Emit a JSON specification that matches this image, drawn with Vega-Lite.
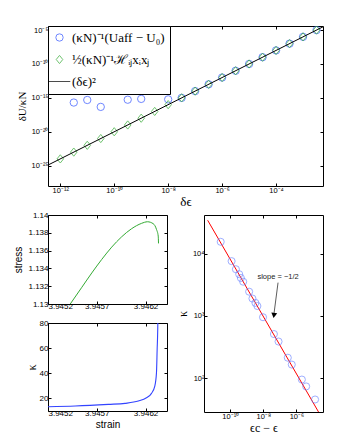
{
  "$schema": "https://vega.github.io/schema/vega-lite/v6.json",
  "background": "white",
  "padding": {"left": 13, "top": 25, "right": 5, "bottom": 5},
  "bounds": "flush",
  "spacing": 29,
  "config": {
    "view": {"stroke": "black", "strokeWidth": 1},
    "axis": {"domain": false, "grid": false, "tickSize": -3, "tickColor": "black", "labelFont": "Liberation Sans", "labelFontSize": 7.5, "labelColor": "black", "titleFont": "Liberation Sans", "titleFontWeight": "normal", "titleColor": "black", "labelPadding": 3},
    "legend": {"labelFont": "Liberation Serif", "labelFontSize": 13, "labelColor": "black"}
  },
  "datasets": {
    "top": [
      {"series": "(κN)⁻¹(Uaff − U₀)", "x": 3.162e-12, "y": 2.04e-16},
      {"series": "(κN)⁻¹(Uaff − U₀)", "x": 1e-11, "y": 4.9e-16},
      {"series": "(κN)⁻¹(Uaff − U₀)", "x": 3.162e-11, "y": 4.68e-17},
      {"series": "(κN)⁻¹(Uaff − U₀)", "x": 3.162e-10, "y": 5.37e-16},
      {"series": "(κN)⁻¹(Uaff − U₀)", "x": 1e-9, "y": 7.08e-16},
      {"series": "(κN)⁻¹(Uaff − U₀)", "x": 1e-8, "y": 6.03e-16},
      {"series": "(κN)⁻¹(Uaff − U₀)", "x": 3.162e-8, "y": 1e-15},
      {"series": "(κN)⁻¹(Uaff − U₀)", "x": 1e-7, "y": 1e-14},
      {"series": "(κN)⁻¹(Uaff − U₀)", "x": 3.162e-7, "y": 1e-13},
      {"series": "(κN)⁻¹(Uaff − U₀)", "x": 1e-6, "y": 1e-12},
      {"series": "(κN)⁻¹(Uaff − U₀)", "x": 3.162e-6, "y": 1e-11},
      {"series": "(κN)⁻¹(Uaff − U₀)", "x": 1e-5, "y": 1e-10},
      {"series": "(κN)⁻¹(Uaff − U₀)", "x": 3.162e-5, "y": 1e-9},
      {"series": "(κN)⁻¹(Uaff − U₀)", "x": 1e-4, "y": 1e-8},
      {"series": "(κN)⁻¹(Uaff − U₀)", "x": 3.162e-4, "y": 1e-7},
      {"series": "(κN)⁻¹(Uaff − U₀)", "x": 1e-3, "y": 1e-6},
      {"series": "(κN)⁻¹(Uaff − U₀)", "x": 3.162e-3, "y": 1e-5},
      {"series": "½(κN)⁻¹ℋᵢⱼxᵢxⱼ", "x": 1e-12, "y": 1e-24},
      {"series": "½(κN)⁻¹ℋᵢⱼxᵢxⱼ", "x": 3.162e-12, "y": 1e-23},
      {"series": "½(κN)⁻¹ℋᵢⱼxᵢxⱼ", "x": 1e-11, "y": 1e-22},
      {"series": "½(κN)⁻¹ℋᵢⱼxᵢxⱼ", "x": 3.162e-11, "y": 1e-21},
      {"series": "½(κN)⁻¹ℋᵢⱼxᵢxⱼ", "x": 1e-10, "y": 1e-20},
      {"series": "½(κN)⁻¹ℋᵢⱼxᵢxⱼ", "x": 3.162e-10, "y": 1e-19},
      {"series": "½(κN)⁻¹ℋᵢⱼxᵢxⱼ", "x": 1e-9, "y": 1e-18},
      {"series": "½(κN)⁻¹ℋᵢⱼxᵢxⱼ", "x": 3.162e-9, "y": 1e-17},
      {"series": "½(κN)⁻¹ℋᵢⱼxᵢxⱼ", "x": 1e-8, "y": 1e-16},
      {"series": "½(κN)⁻¹ℋᵢⱼxᵢxⱼ", "x": 3.162e-8, "y": 1e-15},
      {"series": "½(κN)⁻¹ℋᵢⱼxᵢxⱼ", "x": 1e-7, "y": 1e-14},
      {"series": "½(κN)⁻¹ℋᵢⱼxᵢxⱼ", "x": 3.162e-7, "y": 1e-13},
      {"series": "½(κN)⁻¹ℋᵢⱼxᵢxⱼ", "x": 1e-6, "y": 1e-12},
      {"series": "½(κN)⁻¹ℋᵢⱼxᵢxⱼ", "x": 3.162e-6, "y": 1e-11},
      {"series": "½(κN)⁻¹ℋᵢⱼxᵢxⱼ", "x": 1e-5, "y": 1e-10},
      {"series": "½(κN)⁻¹ℋᵢⱼxᵢxⱼ", "x": 3.162e-5, "y": 1e-9},
      {"series": "½(κN)⁻¹ℋᵢⱼxᵢxⱼ", "x": 1e-4, "y": 1e-8},
      {"series": "½(κN)⁻¹ℋᵢⱼxᵢxⱼ", "x": 3.162e-4, "y": 1e-7},
      {"series": "½(κN)⁻¹ℋᵢⱼxᵢxⱼ", "x": 1e-3, "y": 1e-6},
      {"series": "½(κN)⁻¹ℋᵢⱼxᵢxⱼ", "x": 3.162e-3, "y": 1e-5}
    ],
    "topline": [
      {"series": "(δϵ)²", "x": 3.5e-13, "y": 1.225e-25},
      {"series": "(δϵ)²", "x": 5.5e-3, "y": 3.025e-5}
    ],
    "stress": [
      {"strain": 3.945428, "stress": 1.1300},
      {"strain": 3.945547, "stress": 1.13188},
      {"strain": 3.945649, "stress": 1.13349},
      {"strain": 3.945751, "stress": 1.13501},
      {"strain": 3.945853, "stress": 1.13639},
      {"strain": 3.945955, "stress": 1.13755},
      {"strain": 3.946057, "stress": 1.13846},
      {"strain": 3.946159, "stress": 1.13906},
      {"strain": 3.946220, "stress": 1.13924},
      {"strain": 3.946279, "stress": 1.13902},
      {"strain": 3.946312, "stress": 1.13839},
      {"strain": 3.946330, "stress": 1.13763},
      {"strain": 3.946333, "stress": 1.13681}
    ],
    "kappa": [
      {"strain": 3.9452, "kappa": 13.4},
      {"strain": 3.945479, "kappa": 14.0},
      {"strain": 3.945819, "kappa": 15.3},
      {"strain": 3.945989, "kappa": 16.1},
      {"strain": 3.946126, "kappa": 17.9},
      {"strain": 3.94621, "kappa": 20.5},
      {"strain": 3.946261, "kappa": 24.0},
      {"strain": 3.946295, "kappa": 29.8},
      {"strain": 3.946312, "kappa": 40.3},
      {"strain": 3.946319, "kappa": 58.9},
      {"strain": 3.946326, "kappa": 80},
      {"strain": 3.946327, "kappa": 90}
    ],
    "loglog": [
      {"d": 2.63e-11, "k": 15488},
      {"d": 1.2e-10, "k": 7586},
      {"d": 2.19e-10, "k": 5623},
      {"d": 3.47e-10, "k": 4677},
      {"d": 4.37e-10, "k": 4074},
      {"d": 6.03e-10, "k": 3548},
      {"d": 1.38e-9, "k": 2455},
      {"d": 2.19e-9, "k": 1905},
      {"d": 3.31e-9, "k": 1622},
      {"d": 4.37e-9, "k": 1445},
      {"d": 9.55e-9, "k": 955},
      {"d": 4.37e-8, "k": 513},
      {"d": 8.32e-8, "k": 389},
      {"d": 3.02e-7, "k": 214},
      {"d": 5.25e-7, "k": 166},
      {"d": 2.14e-6, "k": 95.5},
      {"d": 3.89e-6, "k": 74.1},
      {"d": 1.35e-5, "k": 45.7}
    ],
    "fit": [
      {"d": 4.27e-12, "k": 34356},
      {"d": 2.19e-5, "k": 28.8}
    ],
    "note": [
      {"d": 7.8e-8, "k": 4227, "label": "slope = −1/2"}
    ],
    "arrow": [
      {"d": 7.76e-8, "k": 3428, "d2": 4.47e-8, "k2": 1117}
    ],
    "head": [
      {"d": 4.37e-8, "k": 1018}
    ]
  },
  "vconcat": [
    {
      "width": 275,
      "height": 160,
      "resolve": {"axis": {"x": "independent", "y": "independent"}},
      "layer": [
        {
          "data": {"name": "top"},
          "mark": {"type": "point", "filled": false, "strokeWidth": 1, "clip": true},
          "encoding": {
            "x": {"field": "x", "type": "quantitative", "scale": {"type": "log", "domain": [3.5e-13, 5.5e-3], "nice": false},
              "axis": {"orient": "bottom", "values": [1e-12, 1e-10, 1e-8, 1e-6, 1e-4], "title": "δϵ", "titleFont": "Liberation Serif", "titleFontSize": 13, "titlePadding": 2,
                "labelExpr": "'10' + replace(replace(replace(replace(replace(replace(replace(replace(replace(replace(replace(toString(round(log(datum.value)/LN10)),'-','⁻'),'0','⁰'),'1','¹'),'2','²'),'3','³'),'4','⁴'),'5','⁵'),'6','⁶'),'7','⁷'),'8','⁸'),'9','⁹')"}},
            "y": {"field": "y", "type": "quantitative", "scale": {"type": "log", "domain": [1e-28, 4e-5], "nice": false},
              "axis": {"orient": "left", "values": [1e-25, 1e-20, 1e-15, 1e-10, 1e-5], "title": "δU/κN", "titleFont": "Liberation Serif", "titleFontSize": 11, "titlePadding": 4,
                "labelExpr": "'10' + replace(replace(replace(replace(replace(replace(replace(replace(replace(replace(replace(toString(round(log(datum.value)/LN10)),'-','⁻'),'0','⁰'),'1','¹'),'2','²'),'3','³'),'4','⁴'),'5','⁵'),'6','⁶'),'7','⁷'),'8','⁸'),'9','⁹')"}},
            "color": {"field": "series", "type": "nominal",
              "scale": {"domain": ["(κN)⁻¹(Uaff − U₀)", "½(κN)⁻¹ℋᵢⱼxᵢxⱼ", "(δϵ)²"], "range": ["#3355ff", "#33aa33", "#000000"]},
              "legend": {"title": null, "orient": "top-left", "offset": 0, "strokeColor": "black", "fillColor": "white", "padding": 5, "rowPadding": 8, "labelOffset": 6, "symbolStrokeWidth": 1}},
            "shape": {"field": "series", "type": "nominal",
              "scale": {"domain": ["(κN)⁻¹(Uaff − U₀)", "½(κN)⁻¹ℋᵢⱼxᵢxⱼ", "(δϵ)²"], "range": ["circle", "M0,-1L0.8,0L0,1L-0.8,0Z", "M-2.4,0L2.4,0"]}},
            "size": {"field": "series", "type": "nominal",
              "scale": {"domain": ["(κN)⁻¹(Uaff − U₀)", "½(κN)⁻¹ℋᵢⱼxᵢxⱼ", "(δϵ)²"], "range": [54, 81, 81]}}
          }
        },
        {
          "data": {"name": "topline"},
          "mark": {"type": "line", "strokeWidth": 1, "clip": true},
          "encoding": {
            "x": {"field": "x", "type": "quantitative", "axis": {"orient": "top", "labels": false, "title": null, "values": [1e-12, 1e-10, 1e-8, 1e-6, 1e-4]}},
            "y": {"field": "y", "type": "quantitative", "axis": {"orient": "right", "labels": false, "title": null, "values": [1e-25, 1e-20, 1e-15, 1e-10, 1e-5]}},
            "color": {"field": "series", "type": "nominal"}
          }
        }
      ]
    },
    {
      "hconcat": [
        {
          "vconcat": [
            {
              "width": 119,
              "height": 89,
              "data": {"name": "stress"},
              "resolve": {"axis": {"x": "independent", "y": "independent"}},
              "layer": [
                {
                  "mark": {"type": "line", "color": "#33aa33", "strokeWidth": 1, "interpolate": "monotone", "clip": true},
                  "encoding": {
                    "x": {"field": "strain", "type": "quantitative", "scale": {"domain": [3.9452, 3.94642], "nice": false, "zero": false},
                      "axis": {"orient": "bottom", "values": [3.9452, 3.9457, 3.9462], "format": ".4f", "title": null, "labelFontSize": 8, "labelPadding": 1}},
                    "y": {"field": "stress", "type": "quantitative", "scale": {"domain": [1.13, 1.14], "nice": false, "zero": false},
                      "axis": {"orient": "left", "values": [1.13, 1.132, 1.134, 1.136, 1.138, 1.14], "format": ".3~f", "title": "stress", "titleFontSize": 10, "labelFontSize": 8, "titlePadding": 4}}
                  }
                },
                {
                  "mark": {"type": "line", "opacity": 0, "clip": true},
                  "encoding": {
                    "x": {"field": "strain", "type": "quantitative", "axis": {"orient": "top", "labels": false, "title": null, "values": [3.9452, 3.9457, 3.9462]}},
                    "y": {"field": "stress", "type": "quantitative", "axis": {"orient": "right", "labels": false, "title": null, "values": [1.13, 1.132, 1.134, 1.136, 1.138, 1.14]}}
                  }
                }
              ]
            },
            {
              "width": 119,
              "height": 88,
              "data": {"name": "kappa"},
              "resolve": {"axis": {"x": "independent", "y": "independent"}},
              "layer": [
                {
                  "mark": {"type": "line", "color": "#3344ff", "strokeWidth": 1.1, "interpolate": "monotone", "clip": true},
                  "encoding": {
                    "x": {"field": "strain", "type": "quantitative", "scale": {"domain": [3.9452, 3.94642], "nice": false, "zero": false},
                      "axis": {"orient": "bottom", "values": [3.9452, 3.9457, 3.9462], "format": ".4f", "title": "strain", "titleFontSize": 10, "labelFontSize": 8, "labelPadding": 1, "titlePadding": 2}},
                    "y": {"field": "kappa", "type": "quantitative", "scale": {"domain": [10, 80], "nice": false, "zero": false},
                      "axis": {"orient": "left", "values": [20, 40, 60, 80], "title": "κ", "titleFont": "Liberation Serif", "titleFontSize": 12, "labelFontSize": 8, "titlePadding": 1}}
                  }
                },
                {
                  "mark": {"type": "line", "opacity": 0, "clip": true},
                  "encoding": {
                    "x": {"field": "strain", "type": "quantitative", "axis": {"orient": "top", "labels": false, "title": null, "values": [3.9452, 3.9457, 3.9462]}},
                    "y": {"field": "kappa", "type": "quantitative", "axis": {"orient": "right", "labels": false, "title": null, "values": [20, 40, 60, 80]}}
                  }
                }
              ]
            }
          ],
          "spacing": 19,
          "bounds": "flush"
        },
        {
          "width": 119,
          "height": 197,
          "resolve": {"axis": {"x": "independent", "y": "independent"}},
          "layer": [
            {
              "data": {"name": "fit"},
              "mark": {"type": "line", "color": "#ff0000", "strokeWidth": 1, "clip": true},
              "encoding": {
                "x": {"field": "d", "type": "quantitative", "scale": {"type": "log", "domain": [2.57e-12, 4.07e-5], "nice": false},
                  "axis": {"orient": "bottom", "values": [1e-10, 1e-8, 1e-6], "title": "ϵc − ϵ", "titleFont": "Liberation Serif", "titleFontSize": 12, "titlePadding": 3,
                    "labelExpr": "'10' + replace(replace(replace(replace(replace(replace(replace(replace(replace(replace(replace(toString(round(log(datum.value)/LN10)),'-','⁻'),'0','⁰'),'1','¹'),'2','²'),'3','³'),'4','⁴'),'5','⁵'),'6','⁶'),'7','⁷'),'8','⁸'),'9','⁹')"}},
                "y": {"field": "k", "type": "quantitative", "scale": {"type": "log", "domain": [28.8, 41700], "nice": false},
                  "axis": {"orient": "left", "values": [100, 1000, 10000], "title": "κ", "titleFont": "Liberation Serif", "titleFontSize": 12, "titlePadding": 3,
                    "labelExpr": "'10' + replace(replace(replace(replace(replace(replace(replace(replace(replace(replace(replace(toString(round(log(datum.value)/LN10)),'-','⁻'),'0','⁰'),'1','¹'),'2','²'),'3','³'),'4','⁴'),'5','⁵'),'6','⁶'),'7','⁷'),'8','⁸'),'9','⁹')"}}
              }
            },
            {
              "data": {"name": "loglog"},
              "mark": {"type": "point", "shape": "circle", "filled": false, "color": "#6680ff", "size": 50, "strokeWidth": 0.9, "clip": true},
              "encoding": {
                "x": {"field": "d", "type": "quantitative", "axis": {"orient": "top", "labels": false, "title": null, "values": [1e-10, 1e-8, 1e-6]}},
                "y": {"field": "k", "type": "quantitative", "axis": {"orient": "right", "labels": false, "title": null, "values": [100, 1000, 10000]}}
              }
            },
            {
              "data": {"name": "note"},
              "mark": {"type": "text", "font": "Liberation Sans", "fontSize": 7.5, "color": "#222222", "align": "center", "baseline": "middle"},
              "encoding": {
                "x": {"field": "d", "type": "quantitative", "axis": null},
                "y": {"field": "k", "type": "quantitative", "axis": null},
                "text": {"field": "label"}
              }
            },
            {
              "data": {"name": "arrow"},
              "mark": {"type": "rule", "color": "#333333", "strokeWidth": 0.8},
              "encoding": {
                "x": {"field": "d", "type": "quantitative", "axis": null},
                "y": {"field": "k", "type": "quantitative", "axis": null},
                "x2": {"field": "d2"},
                "y2": {"field": "k2"}
              }
            },
            {
              "data": {"name": "head"},
              "mark": {"type": "point", "shape": "triangle-down", "filled": true, "color": "black", "size": 35, "angle": 8, "opacity": 1},
              "encoding": {
                "x": {"field": "d", "type": "quantitative", "axis": null},
                "y": {"field": "k", "type": "quantitative", "axis": null}
              }
            }
          ]
        }
      ],
      "spacing": 156,
      "bounds": "flush"
    }
  ]
}
